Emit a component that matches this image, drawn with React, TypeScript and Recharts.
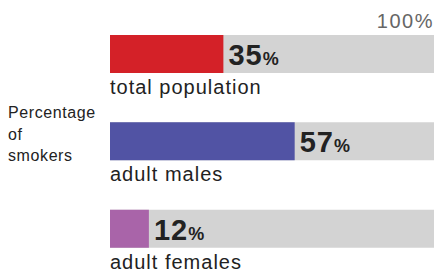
import { BarChart, Bar, XAxis, YAxis, Cell, LabelList } from 'recharts';

const groups = ['total population', 'adult males', 'adult females'];
const smokers = [35, 57, 12];
const colors = ['#d42128', '#5153a4', '#a964a9'];
const axisMax = 100;
const sideLabel = ['Percentage', 'of', 'smokers'];

const data = groups.map((name, i) => ({ name, value: smokers[i] }));

const FONT = '"Liberation Sans", Arial, sans-serif';

function TopTick(props: any) {
    const { x, payload } = props;
    return (
        <text x={x} y={28} textAnchor="end" fill="#666" fontSize={20} letterSpacing={1.5} fontFamily={FONT}>
            {`${payload.value}%`}
        </text>
    );
}

function ValueLabel(props: any) {
    const { x, y, width, height, value } = props;
    return (
        <text x={x + width + 5} y={y + height / 2 + 11} fill="#222" fontFamily={FONT} fontWeight={700}>
            <tspan fontSize={29} letterSpacing={1}>{value}</tspan>
            <tspan fontSize={18}>%</tspan>
        </text>
    );
}

function NameLabel(props: any) {
    const { x, y, height, value } = props;
    return (
        <text x={x} y={y + height + 21} fill="#222" fontSize={20} letterSpacing={1} fontFamily={FONT}>
            {value}
        </text>
    );
}

export default function App() {
    return (
        <div style={{ position: 'absolute', left: 0, top: 0, background: '#fff' }}>
            <BarChart
                width={434}
                height={272}
                data={data}
                layout="vertical"
                margin={{ top: 0, right: 0, bottom: 0, left: 110 }}
                barSize={38}
            >
                <XAxis
                    type="number"
                    domain={[0, axisMax]}
                    ticks={[axisMax]}
                    orientation="top"
                    height={10}
                    axisLine={false}
                    tickLine={false}
                    tick={<TopTick />}
                    interval={0}
                />
                <YAxis type="category" dataKey="name" hide />
                <Bar dataKey="value" background={{ fill: '#d3d3d3' }} isAnimationActive={false}>
                    {data.map((d, i) => (
                        <Cell key={d.name} fill={colors[i]} />
                    ))}
                    <LabelList dataKey="value" content={<ValueLabel />} />
                    <LabelList dataKey="name" content={<NameLabel />} />
                </Bar>
                <text fill="#222" fontSize={16} letterSpacing={0.6} fontFamily={FONT}>
                    {sideLabel.map((line, i) => (
                        <tspan key={line} x={8} y={118 + i * 21.5}>
                            {line}
                        </tspan>
                    ))}
                </text>
            </BarChart>
        </div>
    );
}
